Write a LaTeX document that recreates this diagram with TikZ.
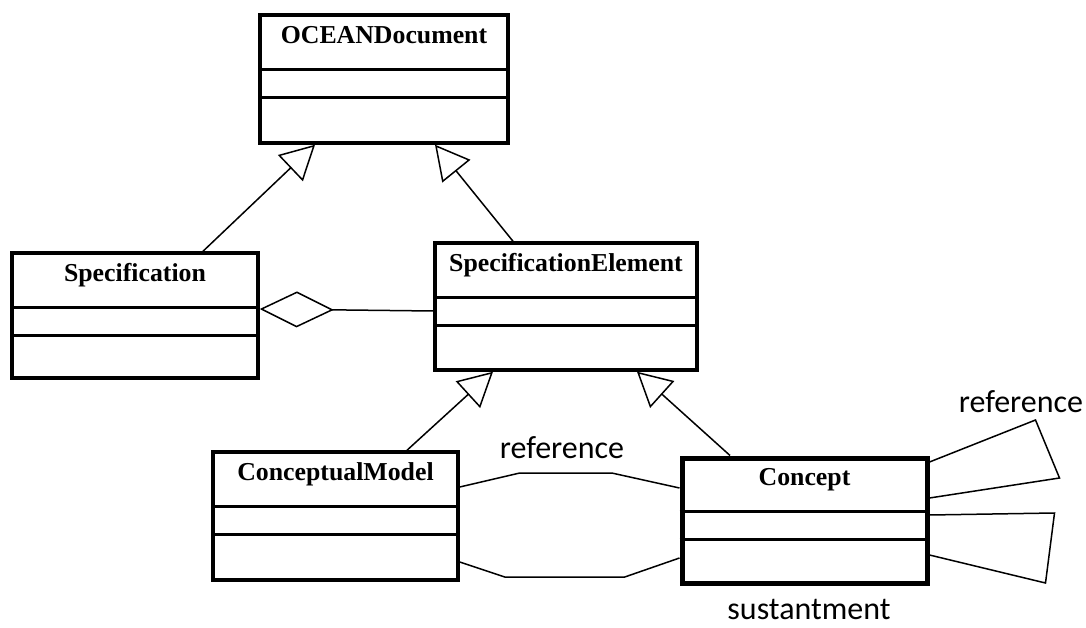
\documentclass[tikz,border=0pt]{standalone}
\usepackage{fontspec}
\setmainfont{Liberation Serif}
\newfontfamily\notefont{Carlito}
\usetikzlibrary{arrows.meta}

\tikzset{
  classbox/.style={draw=black, fill=white, line width=3.5pt, inner sep=0pt},
  classtitle/.style={anchor=base, inner sep=0pt, font=\fontsize{25.8}{28}\selectfont\bfseries},
  divider/.style={line width=3pt},
  conn/.style={line width=1.5pt, line join=miter},
  gen/.style={conn, -{Triangle[open, length=34pt, width=36pt, line width=1.5pt]}},
  agg/.style={conn, {Diamond[open, length=74pt, width=36pt, line width=1.5pt]}-},
  note/.style={anchor=base, inner sep=0pt, font=\notefont\fontsize{32}{36}\selectfont}
}

% a class box: [border width] name, centre x, centre y, width, height, title
\newcommand\umlclass[7][3.5pt]{%
  \node[classbox, line width=#1, minimum width=#5, minimum height=#6] (#2) at (#3,#4) {};
  \node[classtitle] (#2-title) at ([yshift=-30pt]#2.north) {#7};
  \draw[divider] ([yshift=-56pt]#2.north west) -- ([yshift=-56pt]#2.north east);
  \draw[divider] ([yshift=-84pt]#2.north west) -- ([yshift=-84pt]#2.north east);
}

\begin{document}
\begin{tikzpicture}[x=1pt, y=-1pt]
  \useasboundingbox[fill=white] (0,0) rectangle (1086,628);

  \umlclass{ocean}{384}{79}{248pt}{128pt}{OCEANDocument}
  \umlclass{spec}{135}{315.5}{246pt}{125pt}{Specification}
  \umlclass{specel}{566}{306.5}{262pt}{127pt}{SpecificationElement}
  \umlclass{cm}{335.5}{516}{245pt}{128pt}{ConceptualModel}
  \umlclass[5pt]{concept}{804.5}{520.5}{245pt}{125pt}{Concept}

  % generalizations
  \draw[gen] ([xshift=68pt]spec.north) -- ([xshift=-69pt]ocean.south);
  \draw[gen] ([xshift=-53pt]specel.north) -- ([xshift=51pt]ocean.south);
  \draw[gen] ([xshift=71.5pt]cm.north) -- ([xshift=-73pt]specel.south);
  \draw[gen] ([xshift=-74.5pt]concept.north) -- ([xshift=71pt]specel.south);

  % aggregation
  \draw[agg] ([yshift=6.5pt]spec.east) -- ([yshift=-4.5pt]specel.west);

  % associations between ConceptualModel and Concept
  \draw[conn] ([yshift=29pt]cm.east) -- ++(60,-14) -- ++(92,0)
              -- ([yshift=32.5pt]concept.west);
  \draw[conn] ([yshift=-46pt]cm.east) -- ++(45,15) -- ++(120,0)
              -- ([yshift=-37.5pt]concept.west);
  \node[note] (ref1) at (562,458) {reference};

  % self associations of Concept
  \draw[conn] ([yshift=58.5pt]concept.east) -- ++(106,-42) -- ++(24,58)
              -- ([yshift=22.5pt]concept.east);
  \draw[conn] ([yshift=5.5pt]concept.east) -- ++(125,-2) -- ++(-9,70)
              -- ([yshift=-34.5pt]concept.east);
  \node[note] (ref2) at (1021,412) {reference};
  \node[note] (sust) at (809,619) {sustantment};
\end{tikzpicture}
\end{document}
